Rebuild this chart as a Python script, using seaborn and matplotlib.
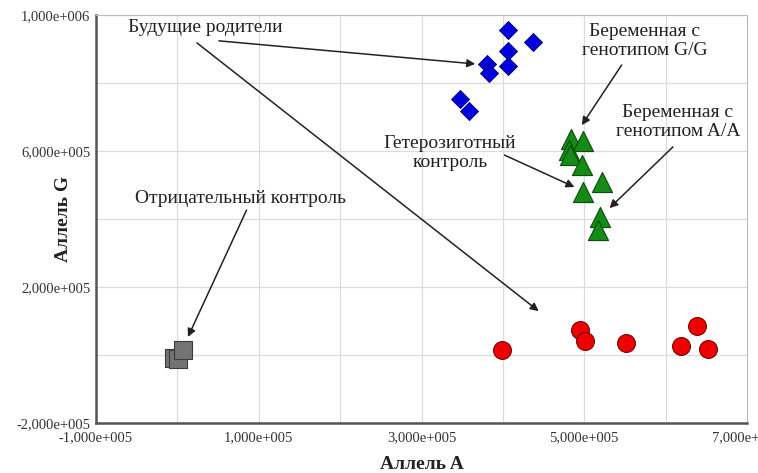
import matplotlib
matplotlib.use("Agg")
import matplotlib.pyplot as plt
import seaborn as sns
import pandas as pd
from matplotlib.ticker import MultipleLocator, FixedLocator

# ---------------- data ----------------
parents_x = [4.06e5, 4.37e5, 4.06e5, 3.80e5, 4.06e5, 3.83e5, 3.47e5, 3.58e5]
parents_y = [9.56e5, 9.21e5, 8.94e5, 8.56e5, 8.50e5, 8.29e5, 7.53e5, 7.18e5]

green_x = [4.84e5, 4.98e5, 4.81e5, 4.82e5, 4.97e5, 5.22e5, 4.99e5, 5.19e5, 5.17e5]
green_y = [6.35e5, 6.29e5, 6.03e5, 5.88e5, 5.59e5, 5.09e5, 4.79e5, 4.06e5, 3.68e5]

red_x = [3.99e5, 4.95e5, 5.01e5, 5.51e5, 6.19e5, 6.38e5, 6.52e5]
red_y = [1.5e4, 7.4e4, 4.1e4, 3.5e4, 2.6e4, 8.5e4, 1.8e4]

neg_x = [-4e3, 1e3, 7e3]
neg_y = [-9e3, -1.2e4, 1.5e4]

x_ticks = [-1e5, 1e5, 3e5, 5e5, 7e5]
x_tick_labels = ["-1,000e+005", "1,000e+005", "3,000e+005", "5,000e+005", "7,000e+005"]
y_ticks = [-2e5, 2e5, 6e5, 1e6]
y_tick_labels = ["-2,000e+005", "2,000e+005", "6,000e+005", "1,000e+006"]

x_label = "Аллель A"
y_label = "Аллель G"

# ---------------- style ----------------
sns.set_style("white")
plt.rcParams["font.family"] = ["Liberation Serif", "DejaVu Serif"]

fig = plt.figure(figsize=(7.58, 4.73), dpi=100)
ax = fig.add_axes([96/758, 1-423/473, (747-96)/758, (423-15)/473])

df_p = pd.DataFrame({"x": parents_x, "y": parents_y})
df_g = pd.DataFrame({"x": green_x, "y": green_y})
df_r = pd.DataFrame({"x": red_x, "y": red_y})
df_n = pd.DataFrame({"x": neg_x, "y": neg_y})

sns.scatterplot(data=df_n, x="x", y="y", marker="s", s=170, color="#747474",
                edgecolor="#3a3a3a", linewidth=0.8, ax=ax, zorder=3)
sns.scatterplot(data=df_r, x="x", y="y", marker="o", s=165, color="#ee0000",
                edgecolor="#7a0000", linewidth=0.8, ax=ax, zorder=3)
sns.scatterplot(data=df_g, x="x", y="y", marker="^", s=210, color="#168a16",
                edgecolor="#0b4d0b", linewidth=0.8, ax=ax, zorder=3)
sns.scatterplot(data=df_p, x="x", y="y", marker="D", s=85, color="#0000dd",
                edgecolor="#00006a", linewidth=0.6, ax=ax, zorder=3)

ax.set_xlim(-1e5, 7e5)
ax.set_ylim(-2e5, 1e6)
ax.xaxis.set_major_locator(FixedLocator(x_ticks))
ax.set_xticklabels(x_tick_labels)
ax.yaxis.set_major_locator(FixedLocator(y_ticks))
ax.set_yticklabels(y_tick_labels)
ax.xaxis.set_minor_locator(MultipleLocator(1e5))
ax.yaxis.set_minor_locator(MultipleLocator(2e5))
ax.grid(True, which="both", color="#dcdcdc", linewidth=0.9, zorder=0)
ax.set_axisbelow(True)
ax.tick_params(axis="both", which="both", length=0, labelsize=10.5,
               colors="#333333")
ax.tick_params(axis="x", pad=6)
ax.tick_params(axis="y", pad=4)

for side in ["top", "right"]:
    ax.spines[side].set_color("#bbbbbb")
    ax.spines[side].set_linewidth(0.8)
for side in ["left", "bottom"]:
    ax.spines[side].set_color("#555555")
    ax.spines[side].set_linewidth(1.8)

ax.set_xlabel(x_label, fontsize=14, fontweight="bold", color="#222222")
ax.xaxis.set_label_coords(0.5, -0.08)
ax.set_ylabel(y_label, fontsize=14, fontweight="bold", color="#222222")
ax.yaxis.set_label_coords(-0.037, 0.5)

# ---------------- annotations ----------------
tc = "#222222"
fs = 14
aprops = dict(arrowstyle="-|>", color="#222222", lw=1.1, mutation_scale=12,
              shrinkA=0, shrinkB=0)

ax.text(3.4e4, 9.62e5, "Будущие родители", ha="center", va="center",
        fontsize=fs, color=tc)
ax.annotate("", xy=(3.66e5, 8.56e5), xytext=(5.1e4, 9.24e5), arrowprops=aprops)
ax.annotate("", xy=(4.44e5, 1.29e5), xytext=(2.4e4, 9.18e5), arrowprops=aprops)

ax.text(5.74e5, 9.24e5, "Беременная с\nгенотипом G/G", ha="center", va="center",
        fontsize=fs, color=tc, linespacing=1.2)
ax.annotate("", xy=(4.97e5, 6.76e5), xytext=(5.46e5, 8.53e5), arrowprops=aprops)

ax.text(6.15e5, 6.85e5, "Беременная с\nгенотипом A/A", ha="center", va="center",
        fontsize=fs, color=tc, linespacing=1.2)
ax.annotate("", xy=(5.31e5, 4.32e5), xytext=(6.09e5, 6.12e5), arrowprops=aprops)

ax.text(3.35e5, 5.94e5, "Гетерозиготный\nконтроль", ha="center", va="center",
        fontsize=fs, color=tc, linespacing=1.2)
ax.annotate("", xy=(4.88e5, 4.94e5), xytext=(4.02e5, 5.88e5), arrowprops=aprops)

ax.text(7.7e4, 4.59e5, "Отрицательный контроль", ha="center", va="center",
        fontsize=fs, color=tc)
ax.annotate("", xy=(1.3e4, 5.3e4), xytext=(8.5e4, 4.26e5), arrowprops=aprops)

fig.savefig("out.png", dpi=100)
